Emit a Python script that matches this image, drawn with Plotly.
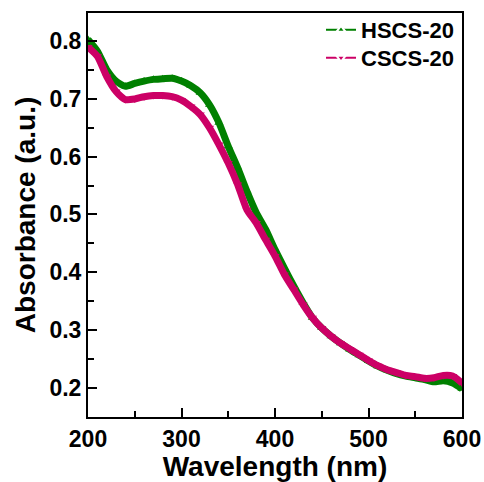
import plotly.graph_objects as go

wavelength = [200, 210, 220, 230, 240, 250, 260, 270, 280, 290, 300, 310, 320, 330, 340,
              350, 360, 370, 380, 390, 400, 410, 420, 430, 440, 450, 460, 470, 480, 490,
              500, 510, 520, 530, 540, 550, 560, 570, 580, 590, 600]

hscs = [0.803, 0.783, 0.751, 0.731, 0.722, 0.727, 0.731, 0.734, 0.735, 0.736, 0.731,
        0.723, 0.711, 0.690, 0.659, 0.618, 0.581, 0.540, 0.503, 0.474, 0.439, 0.407,
        0.376, 0.347, 0.321, 0.303, 0.289, 0.277, 0.266, 0.256, 0.246, 0.237, 0.230,
        0.224, 0.220, 0.217, 0.214, 0.210, 0.212, 0.208, 0.198]

cscs = [0.790, 0.774, 0.739, 0.713, 0.699, 0.700, 0.704, 0.706, 0.706, 0.704, 0.698,
        0.687, 0.673, 0.650, 0.621, 0.589, 0.552, 0.508, 0.485, 0.456, 0.428, 0.396,
        0.370, 0.344, 0.321, 0.303, 0.289, 0.277, 0.267, 0.257, 0.247, 0.238, 0.231,
        0.226, 0.221, 0.219, 0.216, 0.217, 0.221, 0.220, 0.208]

x_ticks = [200, 300, 400, 500, 600]
y_ticks = [0.2, 0.3, 0.4, 0.5, 0.6, 0.7, 0.8]

GREEN = "#008000"
MAGENTA = "#CC0066"
FONT = "Liberation Sans"

fig = go.Figure()

for name, vals, col, sym in [("HSCS-20", hscs, GREEN, "triangle-up"),
                             ("CSCS-20", cscs, MAGENTA, "triangle-down")]:
    fig.add_trace(go.Scatter(
        x=wavelength, y=vals, mode="lines+markers", showlegend=False,
        line=dict(color=col, width=7, shape="spline", smoothing=0.6),
        marker=dict(symbol=sym, size=8, color=col),
    ))

for name, col, sym, lg in [("HSCS-20", GREEN, "triangle-up", "legend"),
                           ("CSCS-20", MAGENTA, "triangle-down", "legend2")]:
    fig.add_trace(go.Scatter(
        x=[None], y=[None], mode="lines+markers", name=name, legend=lg,
        line=dict(color=col, width=2),
        marker=dict(symbol=sym, size=8, color=col, line=dict(color="white", width=2)),
    ))

axis_common = dict(
    showline=True, linecolor="black", linewidth=2, mirror=True,
    ticks="inside", ticklen=9, tickwidth=2, tickcolor="black",
    showgrid=False, zeroline=False,
    tickfont=dict(family=FONT, size=23, color="black", weight="bold"),
)

fig.update_xaxes(
    range=[200, 600], tickvals=x_ticks, ticktext=[str(v) for v in x_ticks],
    minor=dict(ticks="inside", ticklen=6, tickwidth=2, tickcolor="black", dtick=50, showgrid=False),
    title=dict(text="Wavelength (nm)", standoff=6,
               font=dict(family=FONT, size=28, color="black", weight="bold")),
    **axis_common,
)
fig.update_yaxes(
    range=[0.149, 0.849], tickvals=y_ticks, ticktext=[f"{v:.1f}" for v in y_ticks],
    minor=dict(ticks="inside", ticklen=6, tickwidth=2, tickcolor="black", dtick=0.05, tick0=0.15, showgrid=False),
    title=dict(text="Absorbance (a.u.)", standoff=6,
               font=dict(family=FONT, size=28, color="black", weight="bold")),
    **axis_common,
)

legend_common = dict(
    x=0.992, xanchor="right", yanchor="middle",
    bgcolor="rgba(0,0,0,0)", borderwidth=0,
    font=dict(family=FONT, size=22, color="black", weight="bold"),
    itemwidth=30,
)

fig.update_layout(
    width=484, height=482,
    margin=dict(l=88, r=22, t=13, b=65, autoexpand=False),
    paper_bgcolor="white", plot_bgcolor="white",
    legend=dict(y=0.958, **legend_common),
    legend2=dict(y=0.889, **legend_common),
    showlegend=True,
)

fig.write_html("out.html")
